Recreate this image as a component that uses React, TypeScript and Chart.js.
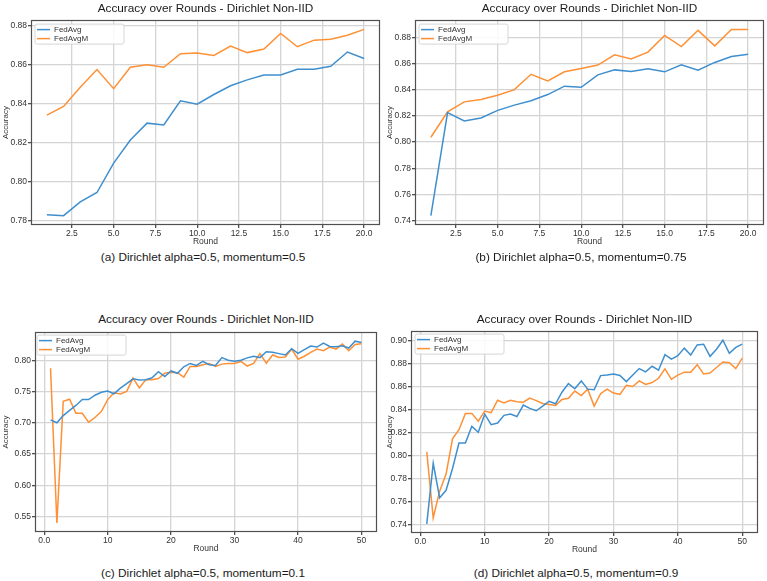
import React, { useEffect, useRef } from "react";
import { Chart, registerables } from "chart.js";

Chart.register(...registerables);

const FONT = '"Liberation Sans", Arial, Helvetica, sans-serif';
const BLUE = "#3f8fcf";
const ORANGE = "#fe9035";
const GRID = "#d4d4d4";
const FRAME = "#505050";
const TEXT = "#333333";

// ---------- data ----------
const ROUNDS_20 = [1, 2, 3, 4, 5, 6, 7, 8, 9, 10, 11, 12, 13, 14, 15, 16, 17, 18, 19, 20];
const ROUNDS_50 = [
  1, 2, 3, 4, 5, 6, 7, 8, 9, 10, 11, 12, 13, 14, 15, 16, 17, 18, 19, 20, 21, 22, 23, 24, 25,
  26, 27, 28, 29, 30, 31, 32, 33, 34, 35, 36, 37, 38, 39, 40, 41, 42, 43, 44, 45, 46, 47, 48, 49, 50,
];

const A_FEDAVG = [0.783, 0.7825, 0.7896, 0.7944, 0.8095, 0.8213, 0.83, 0.8291, 0.8415, 0.8397, 0.8447, 0.8492, 0.8522, 0.8547, 0.8547, 0.8576, 0.8576, 0.8592, 0.8665, 0.8632];
const A_FEDAVGM = [0.8341, 0.8386, 0.8484, 0.8575, 0.8477, 0.8587, 0.86, 0.8587, 0.8656, 0.866, 0.8647, 0.8695, 0.8662, 0.868, 0.876, 0.8692, 0.8726, 0.8731, 0.8751, 0.8781];

const B_FEDAVG = [0.7436, 0.8225, 0.8162, 0.8185, 0.8243, 0.8283, 0.8316, 0.8364, 0.8428, 0.842, 0.8515, 0.8553, 0.8541, 0.8561, 0.8538, 0.8592, 0.855, 0.861, 0.8656, 0.8673];
const B_FEDAVGM = [0.8037, 0.8232, 0.8308, 0.8326, 0.8359, 0.8402, 0.8519, 0.8468, 0.8538, 0.8564, 0.859, 0.8668, 0.8636, 0.8689, 0.8817, 0.8732, 0.8856, 0.8737, 0.8863, 0.8863];

const C_FEDAVG = [
  0.7046, 0.6999, 0.7114, 0.7198, 0.7276, 0.737, 0.737, 0.744, 0.7488, 0.7505,
  0.7463, 0.7552, 0.7624, 0.7702, 0.7682, 0.7687, 0.7718, 0.7817, 0.7738, 0.7828,
  0.779, 0.7895, 0.7948, 0.7917, 0.798, 0.7927, 0.7916, 0.8042, 0.8, 0.7984,
  0.8, 0.8037, 0.8063, 0.8042, 0.8136, 0.8126, 0.8105, 0.8084, 0.8183, 0.811,
  0.8168, 0.8225, 0.821, 0.8272, 0.822, 0.8215, 0.823, 0.8194, 0.8304, 0.8283,
];
const C_FEDAVGM = [
  0.787, 0.5397, 0.7343, 0.7375, 0.7152, 0.7152, 0.701, 0.7083, 0.7177, 0.737,
  0.748, 0.746, 0.75, 0.7713, 0.7557, 0.7687, 0.7687, 0.7707, 0.7791, 0.7807,
  0.78, 0.7729, 0.79, 0.79, 0.7927, 0.7948, 0.79, 0.7937, 0.7948, 0.7948,
  0.798, 0.7906, 0.7948, 0.8105, 0.7953, 0.8084, 0.8042, 0.8052, 0.8178, 0.8016,
  0.8063, 0.8126, 0.8178, 0.8152, 0.821, 0.8178, 0.8257, 0.8152, 0.8252, 0.8262,
];

const D_FEDAVG = [
  0.7411, 0.7935, 0.7636, 0.7701, 0.789, 0.811, 0.811, 0.8255, 0.8204, 0.836,
  0.8269, 0.8283, 0.835, 0.8362, 0.834, 0.8439, 0.841, 0.839, 0.843, 0.8472,
  0.845, 0.855, 0.8625, 0.858, 0.8648, 0.8577, 0.8572, 0.8694, 0.8699, 0.8708,
  0.8696, 0.8642, 0.8699, 0.8755, 0.8727, 0.8775, 0.8741, 0.8875, 0.8836, 0.8867,
  0.8932, 0.8873, 0.896, 0.8966, 0.8861, 0.8923, 0.9, 0.8887, 0.8938, 0.8966,
];
const D_FEDAVGM = [
  0.8034, 0.7462, 0.7694, 0.7842, 0.8147, 0.8226, 0.8367, 0.8367, 0.83, 0.8387,
  0.8373, 0.8481, 0.8458, 0.8481, 0.8467, 0.8464, 0.85, 0.8478, 0.8453, 0.8444,
  0.8436, 0.8487, 0.8498, 0.856, 0.8521, 0.8577, 0.843, 0.8538, 0.8577, 0.8543,
  0.8532, 0.8611, 0.86, 0.8648, 0.8617, 0.8634, 0.8671, 0.8752, 0.8662, 0.8699,
  0.8724, 0.8724, 0.8789, 0.8708, 0.8716, 0.8764, 0.8812, 0.8806, 0.8755, 0.8846,
];

const SERIES_LABELS = ["FedAvg", "FedAvgM"];

const X_TICKS_20 = [2.5, 5, 7.5, 10, 12.5, 15, 17.5, 20];
const X_TICK_LABELS_20 = ["2.5", "5.0", "7.5", "10.0", "12.5", "15.0", "17.5", "20.0"];
const X_TICKS_50 = [0, 10, 20, 30, 40, 50];
const X_TICK_LABELS_50 = ["0.0", "10", "20", "30", "40", "50"];

const Y_TICKS_A = [0.78, 0.8, 0.82, 0.84, 0.86, 0.88];
const Y_TICK_LABELS_A = ["0.78", "0.80", "0.82", "0.84", "0.86", "0.88"];
const Y_TICKS_B = [0.74, 0.76, 0.78, 0.8, 0.82, 0.84, 0.86, 0.88];
const Y_TICK_LABELS_B = ["0.74", "0.76", "0.78", "0.80", "0.82", "0.84", "0.86", "0.88"];
const Y_TICKS_C = [0.55, 0.6, 0.65, 0.7, 0.75, 0.8];
const Y_TICK_LABELS_C = ["0.55", "0.60", "0.65", "0.70", "0.75", "0.80"];
const Y_TICKS_D = [0.74, 0.76, 0.78, 0.8, 0.82, 0.84, 0.86, 0.88, 0.9];
const Y_TICK_LABELS_D = ["0.74", "0.76", "0.78", "0.80", "0.82", "0.84", "0.86", "0.88", "0.90"];

const CHART_TITLE = "Accuracy over Rounds - Dirichlet Non-IID";
const X_TITLE = "Round";
const Y_TITLE = "Accuracy";
const CAPTIONS = [
  "(a) Dirichlet alpha=0.5, momentum=0.5",
  "(b) Dirichlet alpha=0.5, momentum=0.75",
  "(c) Dirichlet alpha=0.5, momentum=0.1",
  "(d) Dirichlet alpha=0.5, momentum=0.9",
];

// ---------- layout (positions only) ----------
type PanelSpec = {
  rounds: number[];
  a: number[];
  b: number[];
  xTicks: number[];
  xLabels: string[];
  yTicks: number[];
  yLabels: string[];
  box: { left: number; top: number; width: number; height: number };
  yWidth: number;
  xHeight: number;
  padRight: number;
  legend: { dx: number; dy: number };
  titleY: number;
  caption: string;
  capX: number;
  capY: number;
};

const PANELS: PanelSpec[] = [
  {
    rounds: ROUNDS_20, a: A_FEDAVG, b: A_FEDAVGM,
    xTicks: X_TICKS_20, xLabels: X_TICK_LABELS_20, yTicks: Y_TICKS_A, yLabels: Y_TICK_LABELS_A,
    box: { left: 0, top: 14, width: 384, height: 236 }, yWidth: 31, xHeight: 25, padRight: 4,
    legend: { dx: 4, dy: 4 }, titleY: 8, caption: CAPTIONS[0], capX: 203, capY: 257,
  },
  {
    rounds: ROUNDS_20, a: B_FEDAVG, b: B_FEDAVGM,
    xTicks: X_TICKS_20, xLabels: X_TICK_LABELS_20, yTicks: Y_TICKS_B, yLabels: Y_TICK_LABELS_B,
    box: { left: 384, top: 14, width: 383, height: 236 }, yWidth: 31, xHeight: 25, padRight: 3,
    legend: { dx: 4, dy: 4 }, titleY: 8, caption: CAPTIONS[1], capX: 581, capY: 257,
  },
  {
    rounds: ROUNDS_50, a: C_FEDAVG, b: C_FEDAVGM,
    xTicks: X_TICKS_50, xLabels: X_TICK_LABELS_50, yTicks: Y_TICKS_C, yLabels: Y_TICK_LABELS_C,
    box: { left: 0, top: 326, width: 384, height: 231 }, yWidth: 35, xHeight: 25, padRight: 7,
    legend: { dx: 2, dy: 3 }, titleY: 319, caption: CAPTIONS[2], capX: 203, capY: 573,
  },
  {
    rounds: ROUNDS_50, a: D_FEDAVG, b: D_FEDAVGM,
    xTicks: X_TICKS_50, xLabels: X_TICK_LABELS_50, yTicks: Y_TICKS_D, yLabels: Y_TICK_LABELS_D,
    box: { left: 384, top: 325, width: 383, height: 233 }, yWidth: 27, xHeight: 25, padRight: 9,
    legend: { dx: 4, dy: 3 }, titleY: 319, caption: CAPTIONS[3], capX: 576, capY: 573,
  },
];

function labelFor(ticks: number[], labels: string[], v: number): string {
  for (let i = 0; i < ticks.length; i++) if (Math.abs(ticks[i] - v) < 1e-9) return labels[i];
  return "";
}

const framePlugin = {
  id: "frame",
  afterDraw(chart: any) {
    const { ctx, chartArea } = chart;
    ctx.save();
    ctx.strokeStyle = FRAME;
    ctx.lineWidth = 1.2;
    const l = Math.round(chartArea.left) + 0.5;
    const t = Math.round(chartArea.top) + 0.5;
    const r = Math.round(chartArea.right) - 0.5;
    const b = Math.round(chartArea.bottom) - 0.5;
    ctx.strokeRect(l, t, r - l, b - t);
    ctx.restore();
  },
};

const innerLegendPlugin = {
  id: "innerLegend",
  afterDraw(chart: any, _args: any, opts: any) {
    const { ctx, chartArea } = chart;
    const x = chartArea.left + (opts.dx ?? 4);
    const y = chartArea.top + (opts.dy ?? 4);
    const w = 89;
    const h = 20;
    ctx.save();
    ctx.beginPath();
    const r = 2;
    ctx.moveTo(x + r, y);
    ctx.lineTo(x + w - r, y);
    ctx.quadraticCurveTo(x + w, y, x + w, y + r);
    ctx.lineTo(x + w, y + h - r);
    ctx.quadraticCurveTo(x + w, y + h, x + w - r, y + h);
    ctx.lineTo(x + r, y + h);
    ctx.quadraticCurveTo(x, y + h, x, y + h - r);
    ctx.lineTo(x, y + r);
    ctx.quadraticCurveTo(x, y, x + r, y);
    ctx.closePath();
    ctx.fillStyle = "rgba(255,255,255,0.85)";
    ctx.fill();
    ctx.strokeStyle = "#d6d6d6";
    ctx.lineWidth = 1;
    ctx.stroke();
    chart.data.datasets.forEach((ds: any, i: number) => {
      const ly = y + 5.5 + i * 9;
      ctx.beginPath();
      ctx.strokeStyle = ds.borderColor;
      ctx.lineWidth = 1.5;
      ctx.moveTo(x + 2, ly);
      ctx.lineTo(x + 15, ly);
      ctx.stroke();
      ctx.fillStyle = TEXT;
      ctx.font = `8px ${FONT}`;
      ctx.textBaseline = "middle";
      ctx.textAlign = "left";
      ctx.fillText(ds.label, x + 19, ly + 0.5);
    });
    ctx.restore();
  },
};

function Panel({ p }: { p: PanelSpec }) {
  const ref = useRef<HTMLCanvasElement | null>(null);
  useEffect(() => {
    if (!ref.current) return;
    const allY = p.a.concat(p.b);
    const yMinD = Math.min(...allY);
    const yMaxD = Math.max(...allY);
    const yM = (yMaxD - yMinD) * 0.05;
    const xFirst = p.rounds[0];
    const xLast = p.rounds[p.rounds.length - 1];
    const xM = (xLast - xFirst) * 0.05;
    const tickFont = { family: FONT, size: 8.5 };
    const chart = new Chart(ref.current, {
      type: "line",
      data: {
        datasets: [
          {
            label: SERIES_LABELS[0],
            data: p.rounds.map((r, i) => ({ x: r, y: p.a[i] })),
            borderColor: BLUE,
            backgroundColor: BLUE,
            borderWidth: 1.5,
            pointRadius: 0,
            tension: 0,
            fill: false,
          },
          {
            label: SERIES_LABELS[1],
            data: p.rounds.map((r, i) => ({ x: r, y: p.b[i] })),
            borderColor: ORANGE,
            backgroundColor: ORANGE,
            borderWidth: 1.5,
            pointRadius: 0,
            tension: 0,
            fill: false,
          },
        ],
      },
      options: {
        animation: false,
        responsive: false,
        maintainAspectRatio: false,
        layout: { padding: { top: 2, right: p.padRight, left: 0, bottom: 0 } },
        plugins: {
          legend: { display: false },
          title: { display: false },
          tooltip: { enabled: false },
          innerLegend: { dx: p.legend.dx, dy: p.legend.dy },
        } as any,
        scales: {
          x: {
            type: "linear",
            min: xFirst - xM,
            max: xLast + xM,
            afterBuildTicks: (s: any) => {
              s.ticks = p.xTicks.map((v) => ({ value: v }));
            },
            afterFit: (s: any) => {
              s.height = p.xHeight;
            },
            ticks: {
              autoSkip: false,
              maxRotation: 0,
              minRotation: 0,
              padding: 1,
              color: TEXT,
              font: tickFont,
              callback: (v: any) => labelFor(p.xTicks, p.xLabels, Number(v)),
            },
            grid: { color: GRID, lineWidth: 1.3, drawTicks: true, tickLength: 3, tickColor: FRAME },
            border: { display: false },
            title: {
              display: true,
              text: X_TITLE,
              color: TEXT,
              font: { family: FONT, size: 8.5 },
              padding: { top: 0, bottom: 3 },
            },
          },
          y: {
            type: "linear",
            min: yMinD - yM,
            max: yMaxD + yM,
            afterBuildTicks: (s: any) => {
              s.ticks = p.yTicks.map((v) => ({ value: v }));
            },
            afterFit: (s: any) => {
              s.width = p.yWidth;
            },
            ticks: {
              autoSkip: false,
              padding: 1,
              color: TEXT,
              font: tickFont,
              callback: (v: any) => labelFor(p.yTicks, p.yLabels, Number(v)),
            },
            grid: { color: GRID, lineWidth: 1.3, drawTicks: true, tickLength: 3, tickColor: FRAME },
            border: { display: false },
            title: {
              display: true,
              text: Y_TITLE,
              color: TEXT,
              font: { family: FONT, size: 8 },
              padding: { top: 1, bottom: 1 },
            },
          },
        },
      } as any,
      plugins: [framePlugin, innerLegendPlugin],
    });
    return () => chart.destroy();
  }, []);

  const plotLeft = p.box.left + p.yWidth;
  const plotRight = p.box.left + p.box.width - p.padRight;
  const plotCenter = (plotLeft + plotRight) / 2;

  return (
    <>
      <canvas
        ref={ref}
        width={p.box.width}
        height={p.box.height}
        style={{
          position: "absolute",
          left: p.box.left,
          top: p.box.top,
          width: p.box.width,
          height: p.box.height,
        }}
      />
      <div
        style={{
          position: "absolute",
          left: plotCenter - 200,
          width: 400,
          top: p.titleY - 7,
          height: 14,
          lineHeight: "14px",
          textAlign: "center",
          fontFamily: FONT,
          fontSize: 11.8,
          color: "#1a1a1a",
          whiteSpace: "nowrap",
        }}
      >
        {CHART_TITLE}
      </div>
      <div
        style={{
          position: "absolute",
          left: p.capX - 200,
          width: 400,
          top: p.capY - 7,
          height: 14,
          lineHeight: "14px",
          textAlign: "center",
          fontFamily: FONT,
          fontSize: 11.8,
          color: "#1a1a1a",
          whiteSpace: "nowrap",
        }}
      >
        {p.caption}
      </div>
    </>
  );
}

export default function App() {
  return (
    <div
      style={{
        position: "fixed",
        left: 0,
        top: 0,
        width: 767,
        height: 581,
        background: "#ffffff",
        overflow: "hidden",
      }}
    >
      {PANELS.map((p, i) => (
        <Panel key={i} p={p} />
      ))}
    </div>
  );
}
